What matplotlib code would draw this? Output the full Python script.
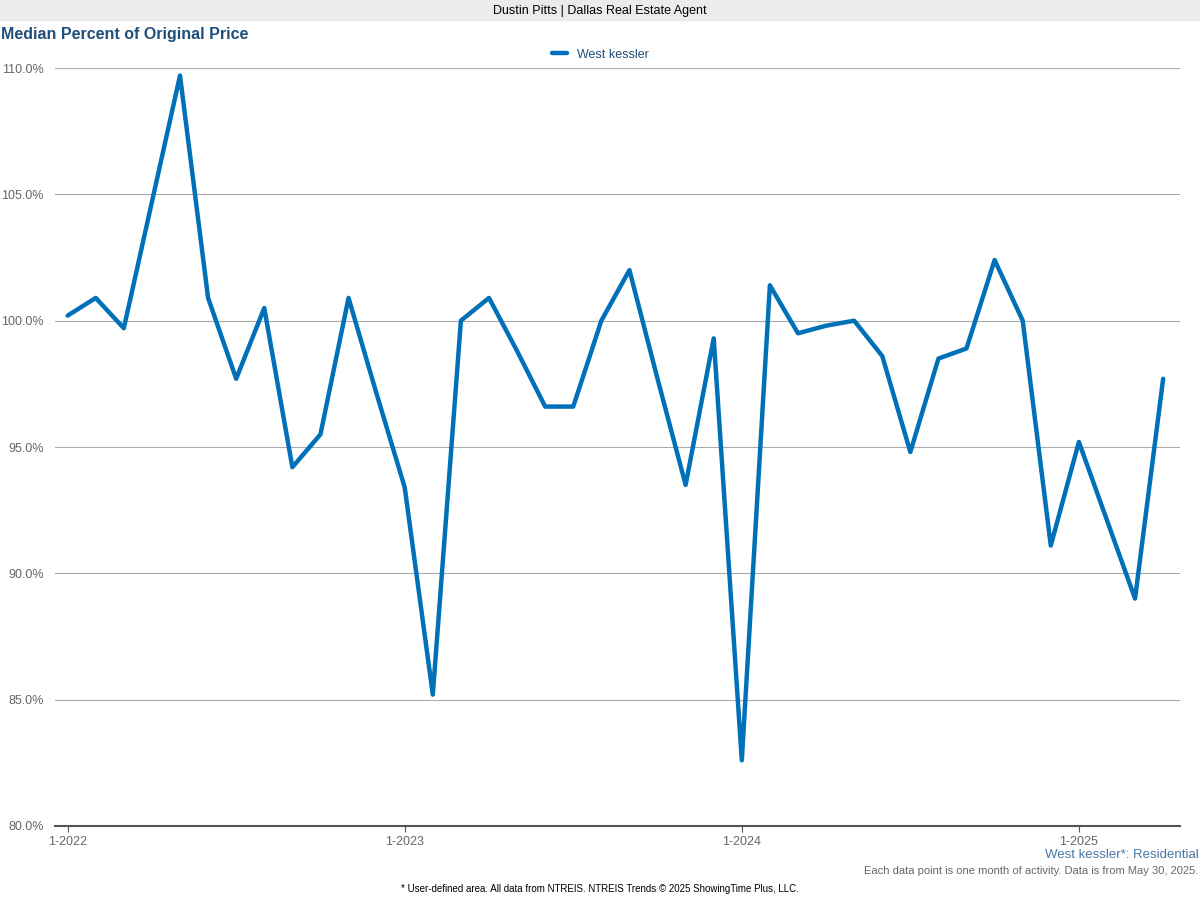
import matplotlib
matplotlib.use("Agg")
import matplotlib.pyplot as plt
from matplotlib.ticker import FuncFormatter

values = [100.2,100.9,99.7,104.7,109.7,100.9,97.7,100.5,94.2,95.5,100.9,97.1,
          93.4,85.2,100.0,100.9,98.8,96.6,96.6,100.0,102.0,97.7,93.5,99.3,
          82.6,101.4,99.5,99.8,100.0,98.6,94.8,98.5,98.9,102.4,100.0,91.1,
          95.2,92.1,89.0,97.7]
tick_labels = ["1-2022","1-2023","1-2024","1-2025"]
tick_pos = [0,12,24,36]
series_name = "West kessler"

fig = plt.figure(figsize=(12,9), dpi=100)
fig.patches.append(plt.Rectangle((0,880/900),1,20/900,transform=fig.transFigure,color="#ebebeb",zorder=0))
fig.text(0.5,889/900,"Dustin Pitts | Dallas Real Estate Agent",ha="center",va="center",fontsize=9,family="Liberation Sans")
fig.text(0.001,865/900,"Median Percent of Original Price",ha="left",va="center",fontsize=11.5,fontweight="bold",color="#1f4e79",family="Liberation Sans")

ax = fig.add_axes([55/1200,(900-826)/900,1125/1200,(826-68)/900])
x = list(range(len(values)))
ax.plot(x,values,color="#0070b8",lw=3.2,label=series_name,solid_joinstyle="round",solid_capstyle="round")
ax.set_ylim(80,110)
ax.set_xlim(-0.45,39.6)
ax.set_yticks([80,85,90,95,100,105,110])
ax.yaxis.set_major_formatter(FuncFormatter(lambda v,p:f"{v:.1f}%"))
ax.set_xticks(tick_pos)
ax.set_xticklabels(tick_labels)
ax.grid(axis="y",color="#aaaaaa",lw=0.8)
ax.set_axisbelow(True)
for s in ["top","right","left"]:
    ax.spines[s].set_visible(False)
ax.spines["bottom"].set_color("#555555")
ax.spines["bottom"].set_linewidth(1.5)
ax.tick_params(axis="y",length=0,labelsize=9,labelcolor="#666666",pad=8)
ax.tick_params(axis="x",length=4,labelsize=9,labelcolor="#666666",color="#555555")
for t in ax.get_xticklabels()+ax.get_yticklabels():
    t.set_family("Liberation Sans")
leg = ax.legend(loc="lower center",bbox_to_anchor=(0.485,1.0),frameon=False,fontsize=9,handlelength=1.2,borderaxespad=0.2)
for t in leg.get_texts():
    t.set_color("#1f4e79"); t.set_family("Liberation Sans")
fig.text(1199/1200,(900-855)/900,"West kessler*: Residential",ha="right",va="center",fontsize=9.5,color="#4a78a8",family="Liberation Sans")
fig.text(1198/1200,(900-871)/900,"Each data point is one month of activity. Data is from May 30, 2025.",ha="right",va="center",fontsize=8,color="#666666",family="Liberation Sans")
fig.text(0.5,(900-889)/900,"* User-defined area. All data from NTREIS. NTREIS Trends © 2025 ShowingTime Plus, LLC.",ha="center",va="center",fontsize=7,family="Liberation Sans")
fig.savefig("out.png")
